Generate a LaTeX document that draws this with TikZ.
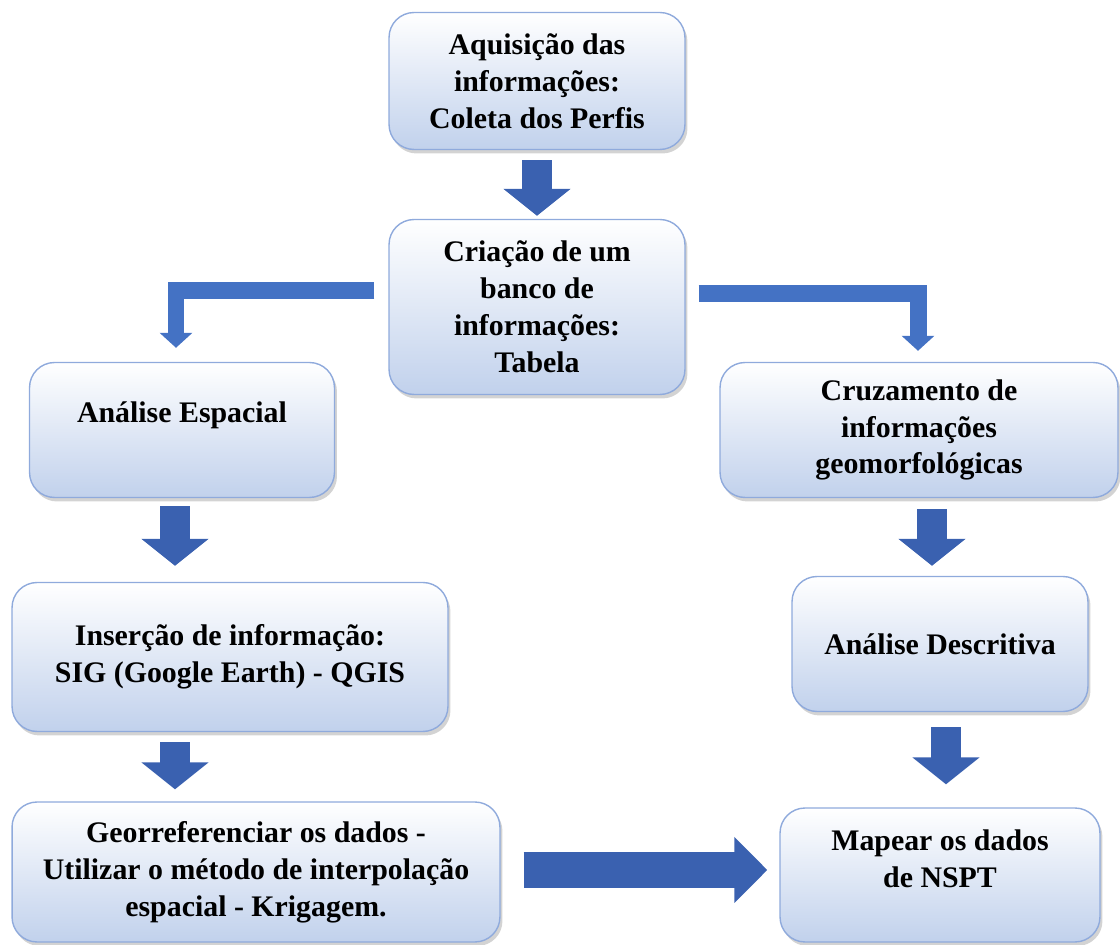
\documentclass[tikz,border=0pt]{standalone}
\usepackage{fontspec}
\setmainfont{Liberation Serif}
\usetikzlibrary{arrows.meta,calc,shadows}
\definecolor{boxline}{RGB}{143,170,220}
\definecolor{boxfill}{RGB}{193,209,236}
\definecolor{arrblue}{RGB}{58,97,176}
\definecolor{bentblue}{RGB}{68,114,196}
\tikzset{
    box/.style={rounded corners=0.5cm, draw=boxline, line width=0.8pt,
    	top color=white, bottom color=boxfill, align=center, inner sep=0pt,
    	font=\bfseries\fontsize{17}{21}\selectfont,
    	drop shadow={shadow xshift=0.05cm, shadow yshift=-0.08cm,
    	opacity=0.35, fill=gray}}
}
\tikzset{
    downarr/.style={line width=0.6cm, draw=arrblue,
    	-{Triangle[width=1.32cm, length=0.54cm]}}
}
\tikzset{
    rightarr/.style={line width=0.72cm, draw=arrblue,
    	-{Triangle[width=1.28cm, length=0.66cm]}}
}
\tikzset{
    bentarr/.style={line width=0.34cm, draw=bentblue, line join=miter,
    	-{Triangle[width=0.64cm, length=0.3cm]}}
}

\begin{document}
\begin{tikzpicture}[x=0.02cm, y=-0.02cm]
	\useasboundingbox (0,0) rectangle (1120,945);
	\node [box, minimum width=5.92cm, minimum height=2.74cm] (aq) at (537,81)
		{Aquisição das\\informações:\\Coleta dos Perfis};
	\node [box, minimum width=5.92cm, minimum height=3.5cm] (cr) at (537,307)
		{Criação de um\\banco de\\informações:\\Tabela};
	\node [box, minimum width=6.1cm, minimum height=2.7cm] (ae) at (182,430)
		{Análise Espacial\\[-7pt] \strut};
	\node [box, minimum width=7.96cm, minimum height=2.7cm] (cz) at (919,430)
		{Cruzamento de\\informações\\geomorfológicas};
	\node [box, minimum width=8.72cm, minimum height=2.98cm] (ins) at (230,657)
		{Inserção de informação:\\SIG (Google Earth) - QGIS};
	\node [box, minimum width=5.92cm, minimum height=2.7cm] (ad) at (940,644)
		{Análise Descritiva};
	\node [box, minimum width=9.76cm, minimum height=2.8cm] (geo) at (256,872)
		{Georreferenciar os dados -\\Utilizar o método de interpolação\\espacial - Krigagem.};
	\node [box, minimum width=6.4cm, minimum height=2.68cm] (map) at (940,875)
		{Mapear os dados\\de NSPT\\[-9pt] \strut};
	\draw [downarr] ($(aq.south)+(0,10)$) -- ($(cr.north)+(0,-3)$);
	\draw [bentarr] ($(cr.west)+(-14,-16)$) -| ($(ae.north)+(-6,-14)$);
	\draw [bentarr] ($(cr.east)+(13,-13)$) -| ($(cz.north)+(-1,-11)$);
	\draw [downarr] ($(ae.south)+(-7,8)$) -- ($(ae.south |- ins.north)+(-7,-16)$);
	\draw [downarr] ($(ae.south |- ins.south)+(-7,10)$) -- ($(ae.south |- geo.north)+(-7,-12)$);
	\draw [downarr] ($(cz.south)+(13,11)$) -- ($(cz.south |- ad.north)+(13,-10)$);
	\draw [downarr] ($(ad.south)+(6,15)$) -- ($(map.north)+(6,-23)$);
	\draw [rightarr] ($(geo.east)+(23,-2)$) -- ($(map.west |- geo.east)+(-12,-2)$);
\end{tikzpicture}
\end{document}
